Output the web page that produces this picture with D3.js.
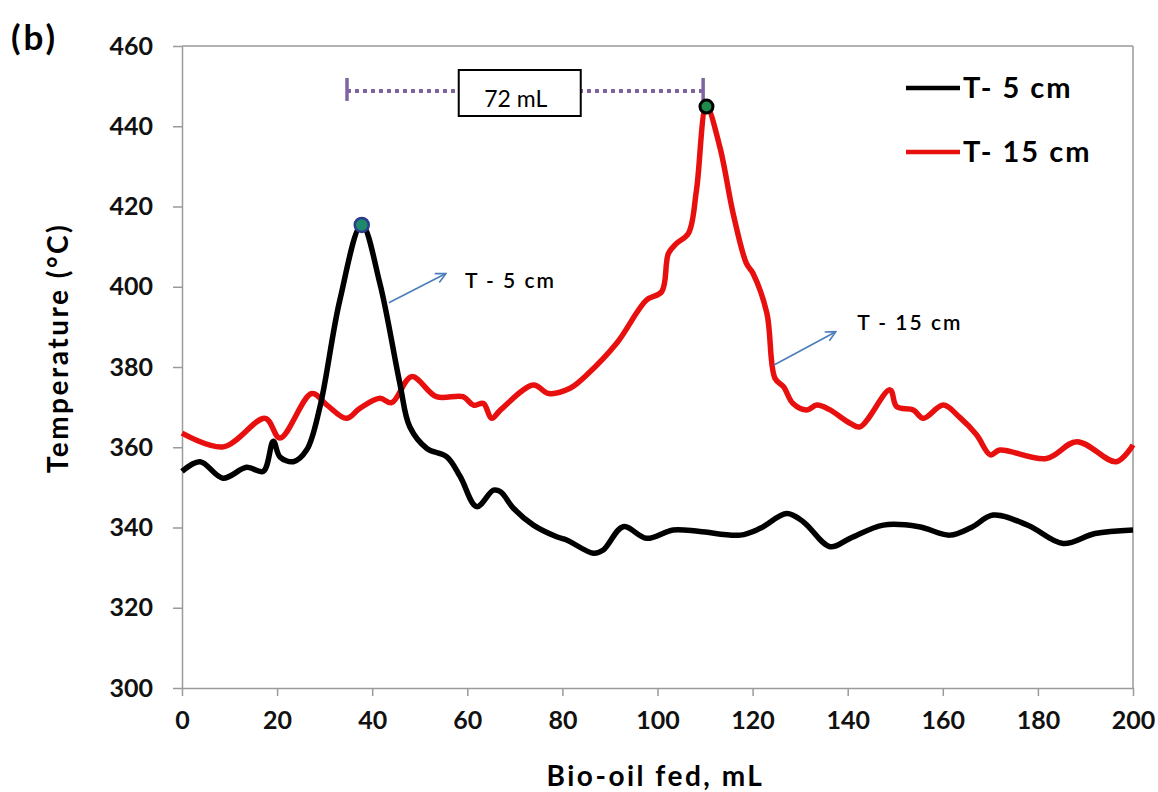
<!DOCTYPE html>
<html>
<head>
<meta charset="utf-8">
<script src="https://cdn.jsdelivr.net/npm/d3@7"></script>
<style>
  body { margin: 0; background: #fff; }
  svg text { font-family: Lato, "Open Sans", sans-serif; }
</style>
</head>
<body>
<svg id="chart" width="1158" height="792"></svg>
<script>
// T- 5 cm (black)
var feed5 = [0, 3.8, 8.6, 13.6, 17.1, 19.2, 20.6, 23.4, 26.2, 29, 33.2, 37.8, 41.6, 45.8, 47.9, 51.5, 55.7, 58.5, 62, 65.5, 67, 69.7, 73.9, 78.8, 80.9, 86.5, 88.6, 92.8, 97.7, 103.3, 108.9, 117.4, 121.6, 127.2, 130.7, 136.3, 140.5, 147.5, 155, 161.5, 166, 170.6, 178, 185.3, 192, 200];
var temp5 = [354, 356.4, 352.3, 355, 354, 361.5, 357.6, 356.4, 359.3, 370, 396.7, 415.4, 400.9, 376, 365.1, 359.7, 357.6, 352.7, 345.2, 349.3, 348.9, 344.8, 340.6, 337.7, 336.9, 333.6, 334.4, 340.2, 337.3, 339.4, 339, 338.1, 339.8, 343.5, 341.4, 335.2, 337.3, 340.6, 340.2, 338.1, 340, 343.1, 340.5, 336, 338.5, 339.4];

// T- 15 cm (red)
var feed15 = [0, 8.7, 17.5, 20.6, 27.3, 30.5, 34.6, 37.4, 41.6, 44.1, 48.3, 53.5, 59.1, 61.3, 63.4, 65.1, 67, 73.9, 77.1, 81.6, 85.1, 91.4, 97.7, 100.9, 102.3, 104, 106.5, 108.2, 110.3, 113.1, 115.9, 118.7, 120.1, 123, 124.7, 126.5, 128.5, 131.4, 133.5, 136, 140.5, 142.6, 148.9, 150.3, 153.8, 155.9, 160.1, 163.5, 167.1, 170, 172, 181.8, 188.2, 196.5, 200];
var temp15 = [363.5, 360.1, 367.2, 362.3, 373.4, 370.5, 367.2, 369.7, 372.2, 371.1, 377.6, 372.6, 372.6, 370.5, 370.9, 367.2, 369.3, 375.5, 373.4, 374.7, 378, 385.9, 396.7, 398.8, 408.3, 410.8, 413.3, 424.1, 444.9, 434.9, 418.3, 405.8, 403.3, 393.4, 377.2, 375.1, 370.9, 369.3, 370.5, 369.5, 366, 365.1, 374.3, 370.1, 369.3, 367.2, 370.5, 367.5, 363.1, 358.1, 359.3, 357.2, 361.4, 356.4, 360.6];

var xTicks = [0, 20, 40, 60, 80, 100, 120, 140, 160, 180, 200];
var yTicks = [300, 320, 340, 360, 380, 400, 420, 440, 460];

var seriesNames = ["T- 5 cm", "T- 15 cm"];
var seriesColors = ["#000000", "#e8100f"];

var margin = {top: 46, left: 182};
var plotWidth = 951;
var plotHeight = 642;

var svg = d3.select("svg#chart");
var plot = svg.append("g")
  .attr("transform", "translate(" + margin.left + "," + margin.top + ")");

var xScale = d3.scaleLinear().domain([0, 200]).range([0, plotWidth]);
var yScale = d3.scaleLinear().domain([300, 460]).range([plotHeight, 0]);

// frame: top and right borders
plot.append("line")
  .attr("x1", 0).attr("x2", plotWidth)
  .attr("y1", 0).attr("y2", 0)
  .attr("stroke", "#9a9a9a").attr("stroke-width", 1.5);
plot.append("line")
  .attr("x1", plotWidth).attr("x2", plotWidth)
  .attr("y1", 0).attr("y2", plotHeight)
  .attr("stroke", "#9a9a9a").attr("stroke-width", 1.5);

var xAxis = d3.axisBottom(xScale).tickValues(xTicks).tickSize(8).tickSizeOuter(0).tickPadding(15);
var yAxis = d3.axisLeft(yScale).tickValues(yTicks).tickSize(9).tickSizeOuter(0).tickPadding(20);

var gx = plot.append("g")
  .attr("transform", "translate(0," + plotHeight + ")")
  .call(xAxis);
var gy = plot.append("g").call(yAxis);

[gx, gy].forEach(function(g) {
  g.select(".domain").attr("stroke", "#9a9a9a").attr("stroke-width", 1.5);
  g.selectAll(".tick line").attr("stroke", "#9a9a9a").attr("stroke-width", 1.5);
  g.selectAll(".tick text")
    .attr("fill", "#111")
    .style("font-size", "25px")
    .style("font-weight", "bold")
    .style("font-family", "Lato, sans-serif");
});

var line = d3.line()
  .x(function(d) { return xScale(d[0]); })
  .y(function(d) { return yScale(d[1]); })
  .curve(d3.curveCatmullRom.alpha(0.5));

var data5 = feed5.map(function(v, i) { return [v, temp5[i]]; });
var data15 = feed15.map(function(v, i) { return [v, temp15[i]]; });

plot.append("path")
  .datum(data15)
  .attr("fill", "none")
  .attr("stroke", seriesColors[1])
  .attr("stroke-width", 5.5)
  .attr("stroke-linejoin", "round")
  .attr("d", line);

plot.append("path")
  .datum(data5)
  .attr("fill", "none")
  .attr("stroke", seriesColors[0])
  .attr("stroke-width", 5.5)
  .attr("stroke-linejoin", "round")
  .attr("d", line);

// 72 mL dimension line between the two peaks
var peak5 = [37.8, 415.4];
var peak15 = [110.3, 444.9];
var dimEnds = [34.7, 109.6];
var dimY = yScale(448.8);
plot.append("line")
  .attr("x1", xScale(dimEnds[0])).attr("x2", xScale(dimEnds[1]))
  .attr("y1", dimY).attr("y2", dimY)
  .attr("stroke", "#8064a2").attr("stroke-width", 4)
  .attr("stroke-dasharray", "4,4");
dimEnds.forEach(function(v) {
  plot.append("line")
    .attr("x1", xScale(v)).attr("x2", xScale(v))
    .attr("y1", dimY - 13).attr("y2", dimY + 10)
    .attr("stroke", "#8064a2").attr("stroke-width", 3.5);
});
plot.append("rect")
  .attr("x", xScale(58.2)).attr("y", 24)
  .attr("width", 122).attr("height", 46)
  .attr("fill", "#fff").attr("stroke", "#000").attr("stroke-width", 2);
plot.append("text")
  .attr("x", xScale(58.2) + 57).attr("y", 61)
  .attr("text-anchor", "middle")
  .style("font-size", "23px")
  .style("font-family", "Lato, sans-serif")
  .text("72 mL");

// peak markers
plot.append("circle")
  .attr("cx", xScale(peak5[0])).attr("cy", yScale(peak5[1]))
  .attr("r", 7).attr("fill", "#1f8a6a").attr("stroke", "#2b3c8c").attr("stroke-width", 2.5);
plot.append("circle")
  .attr("cx", xScale(peak15[0])).attr("cy", yScale(peak15[1]))
  .attr("r", 6.5).attr("fill", "#1f8a4a").attr("stroke", "#000").attr("stroke-width", 3);

// arrows for the inline labels
svg.append("defs").append("marker")
  .attr("id", "arrowhead")
  .attr("viewBox", "0 0 12 12")
  .attr("refX", 11).attr("refY", 6)
  .attr("markerWidth", 12).attr("markerHeight", 12)
  .attr("markerUnits", "userSpaceOnUse")
  .attr("orient", "auto")
  .append("path")
  .attr("d", "M1,1 L11,6 L1,11")
  .attr("fill", "none").attr("stroke", "#4a7ebb").attr("stroke-width", 1.6);

var arrows = [
  {from: [43.5, 396], to: [55.5, 403.3], label: "T - 5 cm", lx: 59.5, ly: 399.7},
  {from: [124.5, 380.5], to: [137.5, 388.8], label: "T - 15 cm", lx: 142, ly: 389.2}
];
arrows.forEach(function(a) {
  plot.append("line")
    .attr("x1", xScale(a.from[0])).attr("y1", yScale(a.from[1]))
    .attr("x2", xScale(a.to[0])).attr("y2", yScale(a.to[1]))
    .attr("stroke", "#4a7ebb").attr("stroke-width", 1.6)
    .attr("marker-end", "url(#arrowhead)");
  plot.append("text")
    .attr("x", xScale(a.lx)).attr("y", yScale(a.ly))
    .style("font-size", "21px")
    .style("font-weight", "600")
    .style("letter-spacing", "2px")
    .style("font-family", "Lato, sans-serif")
    .text(a.label);
});

// legend
var legend = svg.append("g").attr("transform", "translate(906,88)");
seriesNames.forEach(function(name, i) {
  var row = legend.append("g").attr("transform", "translate(0," + (i * 64) + ")");
  row.append("line")
    .attr("x1", 0).attr("x2", 54).attr("y1", 0).attr("y2", 0)
    .attr("stroke", seriesColors[i]).attr("stroke-width", 4.5);
  row.append("text")
    .attr("x", 57).attr("y", 10)
    .style("font-size", "29px")
    .style("font-weight", "bold")
    .style("letter-spacing", "2px")
    .style("font-family", "Lato, sans-serif")
    .text(name);
});

// axis titles
svg.append("text")
  .attr("x", margin.left + plotWidth / 2 - 2).attr("y", 786)
  .attr("text-anchor", "middle")
  .style("font-size", "28px")
  .style("font-weight", "bold")
  .style("letter-spacing", "2.5px")
  .text("Bio-oil fed, mL");

svg.append("text")
  .attr("transform", "translate(68,348) rotate(-90)")
  .attr("text-anchor", "middle")
  .style("font-size", "28px")
  .style("font-weight", "bold")
  .style("letter-spacing", "2.5px")
  .text("Temperature (°C)");

svg.append("text")
  .attr("x", 11).attr("y", 50)
  .style("font-size", "35px")
  .style("font-weight", "bold")
  .style("letter-spacing", "3px")
  .text("(b)");
</script>
</body>
</html>
